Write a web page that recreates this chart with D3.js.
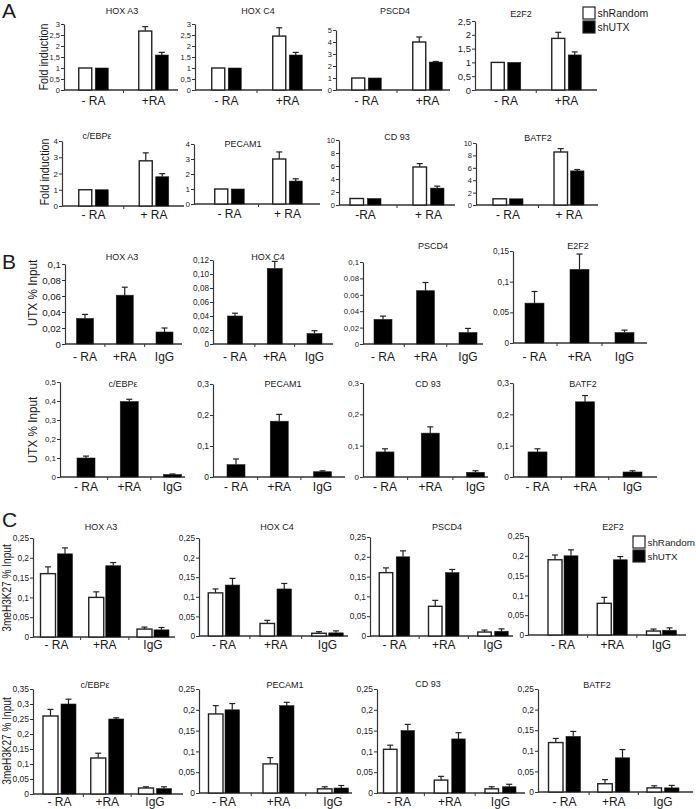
<!DOCTYPE html>
<html>
<head>
<meta charset="utf-8">
<script src="https://cdn.jsdelivr.net/npm/d3@7"></script>
<style>
body { margin: 0; background: #fff; }
text { font-family: "Liberation Sans", Arial, sans-serif; fill: #1a1a1a; }
</style>
</head>
<body>
<script>
// genes, same order in every panel
var genes = ["HOX A3", "HOX C4", "PSCD4", "E2F2", "c/EBP\u03b5", "PECAM1", "CD 93", "BATF2"];
var seriesNames = ["shRandom", "shUTX"];

// panel A: fold induction, categories -RA / +RA
var catsA = [["- RA", "+RA"], ["- RA", "+RA"], ["- RA", "+RA"], ["- RA", "+RA"],
             ["- RA", "+ RA"], ["- RA", "+ RA"], ["-RA", "+ RA"], ["- RA", "+ RA"]];
var foldRandom    = [[1, 2.68], [1, 2.45], [1, 4.0], [1, 1.87], [1, 2.78], [1, 3.0], [1, 5.85], [1, 8.55]];
var foldRandomErr = [[0, 0.2], [0, 0.38], [0, 0.42], [0, 0.22], [0, 0.49], [0, 0.47], [0, 0.52], [0, 0.55]];
var foldUTX       = [[1, 1.59], [1, 1.59], [1, 2.33], [1, 1.27], [1, 1.8], [1, 1.53], [1, 2.6], [1, 5.5]];
var foldUTXErr    = [[0, 0.12], [0, 0.12], [0, 0.05], [0, 0.11], [0, 0.19], [0, 0.15], [0, 0.3], [0, 0.22]];
var ticksA = [[0, 0.5, 1, 1.5, 2, 2.5, 3], [0, 0.5, 1, 1.5, 2, 2.5, 3], [0, 1, 2, 3, 4, 5], [0, 0.5, 1, 1.5, 2, 2.5],
              [0, 1, 2, 3, 4], [0, 1, 2, 3, 4], [0, 2, 4, 6, 8, 10], [0, 2, 4, 6, 8, 10]];

// panel B: UTX % input
var catsBC = ["- RA", "+RA", "IgG"];
var utxInput = [[0.032, 0.061, 0.015], [0.04, 0.108, 0.015], [0.03, 0.065, 0.014], [0.065, 0.12, 0.017],
                [0.1, 0.397, 0.013], [0.04, 0.18, 0.017], [0.08, 0.14, 0.015], [0.08, 0.24, 0.016]];
var utxErr   = [[0.005, 0.01, 0.005], [0.004, 0.01, 0.004], [0.004, 0.01, 0.005], [0.019, 0.025, 0.004],
                [0.01, 0.012, 0.003], [0.018, 0.022, 0.003], [0.01, 0.02, 0.005], [0.01, 0.02, 0.004]];
var ticksB = [[0, 0.02, 0.04, 0.06, 0.08, 0.1], [0, 0.02, 0.04, 0.06, 0.08, 0.1, 0.12], [0, 0.02, 0.04, 0.06, 0.08, 0.1],
              [0, 0.05, 0.1, 0.15], [0, 0.1, 0.2, 0.3, 0.4, 0.5], [0, 0.1, 0.2, 0.3], [0, 0.1, 0.2, 0.3], [0, 0.1, 0.2, 0.3]];

// panel C: 3meH3K27 % input
var h3Random    = [[0.16, 0.1, 0.02], [0.11, 0.032, 0.007], [0.16, 0.075, 0.01], [0.19, 0.08, 0.01],
                   [0.26, 0.12, 0.02], [0.19, 0.07, 0.01], [0.105, 0.031, 0.01], [0.12, 0.02, 0.01]];
var h3RandomErr = [[0.017, 0.014, 0.005], [0.01, 0.008, 0.004], [0.012, 0.015, 0.005], [0.012, 0.015, 0.005],
                   [0.022, 0.016, 0.004], [0.02, 0.015, 0.005], [0.01, 0.009, 0.005], [0.01, 0.01, 0.005]];
var h3UTX       = [[0.21, 0.18, 0.018], [0.13, 0.12, 0.008], [0.2, 0.16, 0.012], [0.2, 0.19, 0.012],
                   [0.3, 0.25, 0.018], [0.2, 0.21, 0.012], [0.15, 0.13, 0.015], [0.135, 0.083, 0.01]];
var h3UTXErr    = [[0.015, 0.008, 0.006], [0.017, 0.014, 0.005], [0.015, 0.008, 0.006], [0.015, 0.008, 0.006],
                   [0.016, 0.004, 0.006], [0.015, 0.008, 0.006], [0.015, 0.015, 0.006], [0.012, 0.02, 0.006]];
var ticksC = [[0, 0.05, 0.1, 0.15, 0.2, 0.25], [0, 0.05, 0.1, 0.15, 0.2, 0.25], [0, 0.05, 0.1, 0.15, 0.2, 0.25],
              [0, 0.05, 0.1, 0.15, 0.2, 0.25], [0, 0.05, 0.1, 0.15, 0.2, 0.25, 0.3, 0.35],
              [0, 0.05, 0.1, 0.15, 0.2, 0.25], [0, 0.05, 0.1, 0.15, 0.2, 0.25], [0, 0.05, 0.1, 0.15, 0.2, 0.25]];

// where each small chart sits (fs = tick label size)
var layoutA = [
  {ax: 64, end: 178, top: 24, y0: 90, tx: 122, ty: 10, c: [93.5, 153.5], bw: 13, gap: 3.5, ly: 105, fs: 7.5},
  {ax: 195, end: 322, top: 24, y0: 90, tx: 258, ty: 10, c: [226.5, 287.5], bw: 13, gap: 3.5, ly: 105, fs: 7.5},
  {ax: 336, end: 450, top: 30, y0: 90, tx: 395, ty: 10, c: [366.5, 427.5], bw: 13, gap: 3.5, ly: 105, fs: 7.5},
  {ax: 475, end: 597, top: 21, y0: 90, tx: 521, ty: 13, c: [506, 566.5], bw: 13, gap: 3.5, ly: 105, fs: 9.5},
  {ax: 62, end: 184, top: 141, y0: 206, tx: 97, ty: 135, c: [93.5, 154], bw: 13, gap: 3.5, ly: 219, fs: 8},
  {ax: 194, end: 320, top: 144, y0: 204, tx: 243, ty: 143, c: [229.5, 287.5], bw: 13, gap: 3.5, ly: 218, fs: 8},
  {ax: 339, end: 455, top: 140, y0: 205, tx: 397, ty: 136, c: [365.5, 428.5], bw: 13.5, gap: 4, ly: 219, fs: 7.5},
  {ax: 476, end: 598, top: 143, y0: 205, tx: 538, ty: 137, c: [508, 569], bw: 13.5, gap: 3, ly: 219, fs: 7.5}
];
var layoutB = [
  {ax: 65, end: 182, top: 264, y0: 344, tx: 122, ty: 256, c: [85, 125, 164.5], bw: 17, gap: 0, ly: 361, fs: 9.7},
  {ax: 213, end: 333, top: 260, y0: 344, tx: 268, ty: 256, c: [235, 274, 314.5], bw: 15, gap: 0, ly: 361, fs: 8.2},
  {ax: 363, end: 483, top: 262, y0: 344, tx: 433, ty: 245, c: [383, 426, 468], bw: 18, gap: 0, ly: 361, fs: 7.8},
  {ax: 513, end: 647, top: 251, y0: 343, tx: 578, ty: 245, c: [534.5, 579.5, 624.5], bw: 19, gap: 0, ly: 361, fs: 8.2},
  {ax: 60, end: 185, top: 382, y0: 477, tx: 123, ty: 383, c: [86, 129, 172.5], bw: 18, gap: 0, ly: 491, fs: 8},
  {ax: 213, end: 345, top: 384, y0: 477, tx: 283, ty: 383, c: [236, 279, 322.5], bw: 18, gap: 0, ly: 491, fs: 8.5},
  {ax: 363, end: 488, top: 383, y0: 477, tx: 428, ty: 383, c: [385, 430, 475.5], bw: 18, gap: 0, ly: 491, fs: 8},
  {ax: 513, end: 657, top: 383, y0: 477, tx: 583, ty: 383, c: [537.5, 586.5, 632.5], bw: 19, gap: 0, ly: 491, fs: 8.5}
];
var layoutC = [
  {ax: 33, end: 175, top: 538, y0: 637, tx: 101, ty: 526, c: [56.5, 103, 153], bw: 15, gap: 2, ly: 649, fs: 8.3},
  {ax: 199, end: 348, top: 538, y0: 636, tx: 277, ty: 526, c: [224, 277.5, 327.5], bw: 14.5, gap: 2.5, ly: 649, fs: 8.3},
  {ax: 370, end: 513, top: 537, y0: 636, tx: 447, ty: 526, c: [394.5, 444, 493], bw: 13.5, gap: 3.5, ly: 649, fs: 8.3},
  {ax: 528, end: 686, top: 536, y0: 635, tx: 613, ty: 526, c: [563, 612, 661.5], bw: 14, gap: 2, ly: 649, fs: 8.3},
  {ax: 33, end: 183, top: 689, y0: 794, tx: 95, ty: 684, c: [59.5, 108, 155], bw: 15, gap: 3, ly: 806, fs: 8.5},
  {ax: 199, end: 352, top: 689, y0: 793, tx: 285, ty: 684, c: [224, 286.5, 333], bw: 14.5, gap: 2, ly: 806, fs: 8.5},
  {ax: 377, end: 525, top: 689, y0: 793, tx: 428, ty: 683, c: [399, 449, 500.5], bw: 13.5, gap: 4, ly: 806, fs: 8.5},
  {ax: 538, end: 693, top: 689, y0: 792, tx: 597, ty: 684, c: [564.5, 612, 663], bw: 14.5, gap: 3, ly: 806, fs: 8.5}
];

var svg = d3.select("body").append("svg")
  .attr("width", 696)
  .attr("height", 809);

function commaFmt(d) {
  return d === 0 ? "0" : String(d).replace(".", ",");
}
function comma2(d) {
  return d === 0 ? "0" : d3.format(".2f")(d).replace(".", ",");
}

function drawChart(L, title, cats, series, ticks, fmt) {
  var g = svg.append("g");
  var y = d3.scaleLinear().domain([0, ticks[ticks.length - 1]]).range([L.y0, L.top]);
  var x = d3.scalePoint().domain(cats).range([L.c[0], L.c[L.c.length - 1]]);
  var n = series.length;
  var total = n * L.bw + (n - 1) * L.gap;
  var xs = d3.scaleBand().domain(series.map(function(s) { return s.name; }))
    .range([-total / 2, total / 2])
    .paddingInner(n > 1 ? L.gap / (L.bw + L.gap) : 0)
    .paddingOuter(0);

  // y axis
  var ya = g.append("g")
    .attr("transform", "translate(" + L.ax + ",0)")
    .call(d3.axisLeft(y).tickValues(ticks).tickFormat(fmt).tickSize(3).tickSizeOuter(0));
  ya.select(".domain").attr("stroke", "#333").attr("stroke-width", 1.2);
  ya.selectAll(".tick line").attr("stroke", "#333");
  ya.selectAll(".tick text").attr("font-size", L.fs).attr("x", -4)
    .style("font-family", "'Liberation Sans', Arial, sans-serif").attr("fill", "#222");

  // x axis line + small ticks between groups
  g.append("line")
    .attr("x1", L.ax).attr("x2", L.end)
    .attr("y1", L.y0).attr("y2", L.y0)
    .attr("stroke", "#333").attr("stroke-width", 1.4);
  var mids = d3.pairs(cats).map(function(p) { return (x(p[0]) + x(p[1])) / 2; });
  g.selectAll("line.xt").data(mids).enter().append("line")
    .attr("class", "xt")
    .attr("x1", function(d) { return d; }).attr("x2", function(d) { return d; })
    .attr("y1", L.y0).attr("y2", L.y0 + 3)
    .attr("stroke", "#333").attr("stroke-width", 1);

  series.forEach(function(s) {
    var pts = cats.map(function(c, i) { return {c: c, v: s.values[i], e: s.errs[i]}; });
    var cx = function(d) { return x(d.c) + xs(s.name) + xs.bandwidth() / 2; };
    // error bars, upward only
    var eb = pts.filter(function(d) { return d.e > 0; });
    g.selectAll(null).data(eb).enter().append("line")
      .attr("x1", cx).attr("x2", cx)
      .attr("y1", function(d) { return y(d.v); })
      .attr("y2", function(d) { return y(d.v + d.e); })
      .attr("stroke", "#222").attr("stroke-width", 1.2);
    g.selectAll(null).data(eb).enter().append("line")
      .attr("x1", function(d) { return cx(d) - 3; })
      .attr("x2", function(d) { return cx(d) + 3; })
      .attr("y1", function(d) { return y(d.v + d.e); })
      .attr("y2", function(d) { return y(d.v + d.e); })
      .attr("stroke", "#222").attr("stroke-width", 1.2);
    g.selectAll(null).data(pts).enter().append("rect")
      .attr("x", function(d) { return x(d.c) + xs(s.name); })
      .attr("y", function(d) { return y(d.v); })
      .attr("width", xs.bandwidth())
      .attr("height", function(d) { return L.y0 - y(d.v); })
      .attr("fill", s.fill)
      .attr("stroke", "#222")
      .attr("stroke-width", s.fill === "#fff" ? 1.4 : 0.6);
  });

  // category labels
  g.selectAll(null).data(cats).enter().append("text")
    .attr("x", function(d) { return x(d); })
    .attr("y", L.ly)
    .attr("text-anchor", "middle")
    .attr("font-size", 12)
    .text(function(d) { return d; });

  // gene title
  g.append("text")
    .attr("x", L.tx).attr("y", L.ty + 3.5)
    .attr("text-anchor", "middle")
    .attr("font-size", 9)
    .text(title);
}

genes.forEach(function(gene, i) {
  drawChart(layoutA[i], gene, catsA[i], [
    {name: seriesNames[0], values: foldRandom[i], errs: foldRandomErr[i], fill: "#fff"},
    {name: seriesNames[1], values: foldUTX[i], errs: foldUTXErr[i], fill: "#000"}
  ], ticksA[i], commaFmt);

  drawChart(layoutB[i], gene, catsBC, [
    {name: "UTX", values: utxInput[i], errs: utxErr[i], fill: "#000"}
  ], ticksB[i], i === 1 ? comma2 : commaFmt);

  drawChart(layoutC[i], gene, catsBC, [
    {name: seriesNames[0], values: h3Random[i], errs: h3RandomErr[i], fill: "#fff"},
    {name: seriesNames[1], values: h3UTX[i], errs: h3UTXErr[i], fill: "#000"}
  ], ticksC[i], commaFmt);
});

// y axis titles (squeezed along their length like the original)
var yTitles = [
  {t: "Fold induction", x: 44, y: 57, s: 13, k: 0.83},
  {t: "Fold induction", x: 45, y: 172, s: 13, k: 0.83},
  {t: "UTX % Input", x: 33, y: 293, s: 13, k: 0.9},
  {t: "UTX % Input", x: 33, y: 430, s: 13, k: 0.9},
  {t: "3meH3K27 % Input", x: 7, y: 588, s: 12, k: 0.84},
  {t: "3meH3K27 % Input", x: 7, y: 741, s: 12, k: 0.84}
];
svg.selectAll("text.ytitle").data(yTitles).enter().append("text")
  .attr("class", "ytitle")
  .attr("transform", function(d) {
    return "translate(" + d.x + "," + d.y + ") rotate(-90) scale(" + d.k + ",1)";
  })
  .attr("text-anchor", "middle")
  .attr("dominant-baseline", "central")
  .attr("font-size", function(d) { return d.s; })
  .text(function(d) { return d.t; });

// panel letters
svg.selectAll("text.letter").data([["A", 18], ["B", 269], ["C", 527]]).enter().append("text")
  .attr("class", "letter")
  .attr("x", 2).attr("y", function(d) { return d[1]; })
  .attr("font-size", 21)
  .text(function(d) { return d[0]; });

// legends
function legend(x0, y0, fs) {
  var lg = svg.append("g").attr("transform", "translate(" + x0 + "," + y0 + ")");
  seriesNames.forEach(function(name, i) {
    lg.append("rect")
      .attr("x", 0).attr("y", i * 14)
      .attr("width", 12).attr("height", 12)
      .attr("fill", i === 0 ? "#fff" : "#000")
      .attr("stroke", "#222").attr("stroke-width", 1.2);
    lg.append("text")
      .attr("x", 14.5).attr("y", i * 14 + 10)
      .attr("font-size", fs)
      .text(name);
  });
}
legend(583, 7, 10.5);
legend(633, 536, 9.8);
</script>
</body>
</html>
